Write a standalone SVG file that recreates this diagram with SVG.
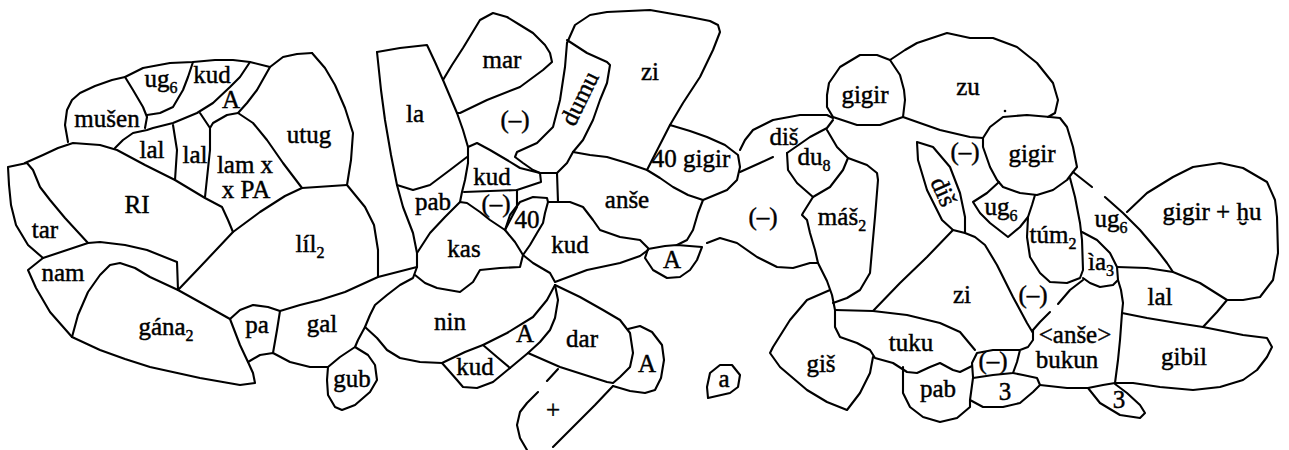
<svg xmlns="http://www.w3.org/2000/svg" width="1289" height="450" viewBox="0 0 1289 450">
<style>
.l{fill:none;stroke:#000;stroke-width:2.1;stroke-linejoin:round;stroke-linecap:round}
.t{font-family:"Liberation Serif","DejaVu Serif",serif;font-size:25px;fill:#000;stroke:#000;stroke-width:0.45;text-anchor:middle}
.s{font-size:16px}
</style>
<rect width="1289" height="450" fill="#fff"/>
<g id="connectors">
<path class="l" d="M68,142 L65,125 L67,110 L72,100 L80,93 L95,86 L112,80 L125,77 L143,68 L170,63 L193,62 L215,60 L233,60 L250,62 L270,67 L283,57 L297,54 L312,53"/>
<path class="l" d="M312,53 L325,68 L335,85 L345,108 L353,133 L351,160 L347,185 L365,207 L374,225 L378,250 L378,277"/>
<path class="l" d="M125,77 L133,90 L143,107 L147,117 L145,128"/>
<path class="l" d="M147,115 L160,113 L173,107 L183,90 L188,77 L193,62"/>
<path class="l" d="M250,62 L240,77 L230,87 L213,103 L197,113 L173,123 L153,128 L147,130 L133,133 L123,140 L115,148"/>
<path class="l" d="M270,67 L257,90 L247,103 L238,113 L227,115 L213,123 L210,128"/>
<path class="l" d="M173,125 L177,150 L175,180"/>
<path class="l" d="M200,113 L210,128 L210,150 L205,197"/>
<path class="l" d="M238,113 L253,123 L267,140 L283,163 L302,188"/>
<path class="l" d="M25,163 L43,155 L58,148 L73,143 L100,145 L117,150 L145,165 L175,180 L205,198 L222,207 L228,220 L233,232"/>
<path class="l" d="M27,163 L8,167 L9,185 L11,205 L16,225 L28,245 L43,258"/>
<path class="l" d="M27,163 L33,170 L40,187 L50,200 L65,218 L88,243"/>
<path class="l" d="M43,258 L28,270 L36,288 L50,312 L72,337"/>
<path class="l" d="M43,258 L88,243 L100,242 L125,245 L147,250 L177,262 L178,290"/>
<path class="l" d="M72,337 L78,315 L88,292 L100,275 L110,265 L120,263 L135,268 L150,277 L178,290 L205,305 L230,319"/>
<path class="l" d="M178,290 L200,267 L233,232 L260,212 L285,196 L302,188 L347,185"/>
<path class="l" d="M72,337 L100,350 L125,359 L150,367 L200,378 L240,385 L255,383 L253,373 L248,362 L240,345 L230,319"/>
<path class="l" d="M230,319 L240,310 L253,305 L268,307 L280,311 L300,305 L320,300 L345,292 L378,277 L417,267"/>
<path class="l" d="M280,311 L277,330 L273,353"/>
<path class="l" d="M248,362 L260,355 L273,353 L290,362 L310,367 L328,367"/>
<path class="l" d="M417,267 L413,278 L400,285 L387,295 L375,305 L370,315 L365,327 L358,340 L355,347 L340,357 L328,367"/>
<path class="l" d="M355,347 L368,355 L375,365 L377,380 L370,392 L355,405 L342,410 L335,407 L328,395 L327,380 L328,367"/>
<path class="l" d="M377,52 L381,90 L385,120 L391,155 L397,185 L403,207 L413,233 L417,253 L417,267"/>
<path class="l" d="M377,52 L400,48 L427,45 L435,62 L443,80 L457,113 L463,130 L468,147 L468,163 L465,180 L462,192 L460,202"/>
<path class="l" d="M397,185 L413,190 L430,185 L450,170 L467,157"/>
<path class="l" d="M443,80 L452,65 L463,48 L480,20 L493,13 L507,17 L520,25 L533,33 L545,45 L550,53 L552,62 L543,70 L520,87 L487,100 L460,113 L457,113"/>
<path class="l" d="M468,147 L477,143 L490,150 L507,160 L520,168 L540,173 L557,173"/>
<path class="l" d="M540,173 L533,170 L523,163 L515,157 L517,152 L537,143 L553,127 L560,100 L565,67 L567,43"/>
<path class="l" d="M567,43 L575,25 L590,15 L607,12 L650,10 L690,17 L710,21 L718,25 L720,32 L713,50 L700,77 L683,103 L670,125"/>
<path class="l" d="M567,40 L587,53 L607,62 L610,65 L607,83 L600,100 L593,120 L583,140 L573,152 L567,163 L557,173"/>
<path class="l" d="M557,173 L558,202 L548,202"/>
<path class="l" d="M540,173 L541,182 L517,190 L464,192"/>
<path class="l" d="M517,190 L517,207 L505,230"/>
<path class="l" d="M417,253 L430,233 L445,217 L460,202 L467,203 L480,212 L490,220 L505,230 L515,242 L523,255"/>
<path class="l" d="M505,230 L510,215 L520,202 L533,197 L547,198 L548,202 L545,213 L543,223 L537,233 L530,245 L523,255"/>
<path class="l" d="M573,152 L590,155 L607,157 L627,163 L647,170"/>
<path class="l" d="M670,125 L690,131 L707,137 L725,145 L738,155 L740,167 L737,180 L727,190 L703,200 L688,195 L673,187 L660,178 L647,170 L670,125"/>
<path class="l" d="M558,202 L570,202 L583,207 L593,220 L600,230 L620,237 L640,240 L648,248"/>
<path class="l" d="M703,200 L698,213 L693,230 L687,240 L677,245"/>
<path class="l" d="M523,255 L533,263 L550,273 L555,282 L587,270 L620,263 L640,256 L648,250"/>
<path class="l" d="M648,249 L665,246 L677,245 L702,247 L697,260 L690,270 L680,277 L667,278 L653,270 L645,258 L648,249"/>
<path class="l" d="M415,275 L425,283 L437,288 L460,292 L473,282 L480,270 L500,268 L520,267 L523,255"/>
<path class="l" d="M442,363 L465,352 L483,345 L507,333 L533,317 L547,300 L555,285"/>
<path class="l" d="M365,327 L377,338 L387,350 L400,358 L420,362 L442,363"/>
<path class="l" d="M442,363 L450,372 L457,380 L463,387 L477,388 L493,382 L510,368"/>
<path class="l" d="M483,345 L497,357 L510,368"/>
<path class="l" d="M555,285 L558,300 L555,318 L550,330 L540,342 L528,353 L510,368"/>
<path class="l" d="M555,285 L580,297 L603,310 L620,320 L630,333 L633,353 L630,367 L620,377 L613,383 L607,382 L585,375 L560,367 L528,353"/>
<path class="l" d="M628,329 L640,326 L652,332 L662,345 L664,360 L661,378 L655,390 L645,393 L630,391 L613,386"/>
<path class="l" d="M558,369 L547,381 M538,392 L527,403 L520,412 L517,425 L520,438 L527,450 M613,386 L595,405 L575,425 L553,447"/>
<path class="l" d="M833,117 L827,107 L827,95 L829,83 L840,67 L860,55 L877,55 L890,60 L900,75 L904,90 L905,100 L903,117 L880,125 L857,125 Z"/>
<path class="l" d="M890,60 L905,50 L917,43 L947,33 L970,38 L993,38 L1017,47 L1037,63 L1053,83 L1058,100 L1055,113 L1048,117"/>
<path class="l" d="M903,117 L920,123 L940,130 L970,137 L983,138"/>
<path class="l" d="M983,138 L990,127 L1003,117 L1027,115 L1050,117 L1060,118 L1067,127 L1073,147 L1077,167 L1073,172 L1067,180 L1053,190 L1037,195 L1020,193 L1003,187 L997,180 L990,167 L983,147 Z"/>
<path class="l" d="M740,150 L745,140 L753,130 L773,120 L800,115 L827,115 L833,118"/>
<path class="l" d="M740,172 L760,163 L773,157 M787,153 L810,137 L827,128 L833,120"/>
<path class="l" d="M787,153 L788,170 L797,183 L813,197 L830,187 L843,170 L848,158 M827,130 L837,147 L848,158"/>
<path class="l" d="M848,158 L867,165 L877,173 L878,180 L875,217 L872,250 L870,273 L860,290 L847,298 L833,303"/>
<path class="l" d="M813,197 L803,213 L802,215 L807,220 L810,233 L815,250 L818,263 L827,281 L832,295 L835,310"/>
<path class="l" d="M707,243 L720,238 L737,243 L757,257 L777,267 L793,268 L810,263 L818,263"/>
<path class="l" d="M830,290 L807,300 L790,320 L773,347 L770,353 L780,367 L807,390 L827,402 L847,410 L860,393 L870,373 L873,357"/>
<path class="l" d="M835,310 L873,311 L907,315 L940,323 L960,332 L975,350"/>
<path class="l" d="M835,310 L835,327 L840,337 L857,343 L870,350 L875,358 L893,363 L907,372 L917,373 L930,367 L940,363 L953,370 L960,372 L972,366"/>
<path class="l" d="M903,367 L903,393 L910,407 L923,417 L940,422 L957,418 L970,407 L970,400"/>
<path class="l" d="M917,142 L933,147 L950,167 L960,193 L965,217 L965,233 L953,230 L942,220 L927,190 L918,160 Z"/>
<path class="l" d="M953,230 L927,257 L900,283 L873,311"/>
<path class="l" d="M965,233 L975,237 L985,245 L997,265 L1013,297 L1027,323 L1033,333"/>
<path class="l" d="M999,182 L987,193 L973,202 L980,213 L990,223 L1008,237 L1020,227 L1028,217"/>
<path class="l" d="M1035,195 L1032,205 L1028,217 L1027,237 L1030,257 L1040,273 L1050,282 L1067,283 L1080,278 L1083,270 L1082,240 L1080,223 L1075,197 L1070,178"/>
<path class="l" d="M1082,232 L1097,240 L1110,253 L1117,267 L1118,280 L1113,285 L1100,287 L1090,283 L1083,278"/>
<path class="l" d="M1073,172 L1092,187 M1105,197 L1123,213 L1140,230 L1157,250 L1167,263 L1173,272"/>
<path class="l" d="M1127,212 L1147,193 L1173,177 L1193,167 L1220,163 L1243,168 L1267,182 L1275,200 L1277,217 L1278,253 L1273,280 L1260,297 L1243,300 L1227,300"/>
<path class="l" d="M1117,267 L1147,268 L1173,272 L1200,283 L1227,300 L1217,312 L1203,327"/>
<path class="l" d="M1118,280 L1121,290 L1123,303 L1122,313 L1120,340 L1118,360 L1115,383"/>
<path class="l" d="M1122,313 L1147,318 L1177,323 L1203,327 L1243,335 L1267,338 L1272,347 L1267,357 L1257,370 L1243,380 L1220,387 L1193,390 L1160,387 L1133,383 L1115,383"/>
<path class="l" d="M1088,388 L1100,403 L1120,415 L1140,418 L1145,413 L1140,405 L1127,393 L1115,384"/>
<path class="l" d="M1040,385 L1067,388 L1088,388 L1103,385 L1115,383"/>
<path class="l" d="M1083,280 L1070,290 L1058,304 M1050,312 L1040,322 L1033,330"/>
<path class="l" d="M1033,330 L1033,340 L1028,347 L1020,350 L993,350 L977,353 L972,363 L973,377 M1020,350 L1017,362 L1013,373 M973,378 L993,375 L1013,373"/>
<path class="l" d="M973,378 L970,400 L983,407 L1003,407 L1020,403 L1033,392 L1040,385 L1037,378 L1023,375 L1013,373"/>
<path class="l" d="M708,398 L707,387 L710,373 L720,365 L732,365 L740,375 L738,387 L730,393 Z"/>
<circle cx="1005" cy="111" r="1.3" fill="#000"/>
</g>
<g id="labels">
<text class="t" x="161" y="87">ug<tspan class="s" dy="6">6</tspan></text>
<text class="t" x="212" y="83">kud</text>
<text class="t" x="231" y="108">A</text>
<text class="t" x="107" y="127">mušen</text>
<text class="t" x="152" y="158">lal</text>
<text class="t" x="195" y="163">lal</text>
<text class="t" x="245" y="173">lam x</text>
<text class="t" x="246" y="198">x PA</text>
<text class="t" x="309" y="143">utug</text>
<text class="t" x="137" y="213">RI</text>
<text class="t" x="45" y="238">tar</text>
<text class="t" x="63" y="281">nam</text>
<text class="t" x="310" y="252">líl<tspan class="s" dy="6">2</tspan></text>
<text class="t" x="166" y="335">gána<tspan class="s" dy="6">2</tspan></text>
<text class="t" x="257" y="333">pa</text>
<text class="t" x="322" y="332">gal</text>
<text class="t" x="352" y="387">gub</text>
<text class="t" x="415" y="122">la</text>
<text class="t" x="502" y="68">mar</text>
<text class="t" x="515" y="128">(–)</text>
<text class="t" transform="translate(587,102) rotate(-64)">dumu</text>
<text class="t" x="492" y="185">kud</text>
<text class="t" x="433" y="210">pab</text>
<text class="t" x="496" y="212">(–)</text>
<text class="t" x="527" y="228">40</text>
<text class="t" x="464" y="257">kas</text>
<text class="t" x="570" y="253">kud</text>
<text class="t" x="627" y="208">anše</text>
<text class="t" x="650" y="80">zi</text>
<text class="t" x="691" y="167">40 gigir</text>
<text class="t" x="450" y="330">nin</text>
<text class="t" x="525" y="342">A</text>
<text class="t" x="475" y="375">kud</text>
<text class="t" x="582" y="347">dar</text>
<text class="t" x="647" y="372">A</text>
<text class="t" x="553" y="418">+</text>
<text class="t" x="672" y="268">A</text>
<text class="t" x="724" y="387">a</text>
<text class="t" x="784" y="145">diš</text>
<text class="t" x="814" y="165">du<tspan class="s" dy="6">8</tspan></text>
<text class="t" x="865" y="103">gigir</text>
<text class="t" x="763" y="225">(–)</text>
<text class="t" x="842" y="225">máš<tspan class="s" dy="6">2</tspan></text>
<text class="t" x="968" y="95">zu</text>
<text class="t" x="1032" y="162">gigir</text>
<text class="t" x="965" y="160">(–)</text>
<text class="t" transform="translate(936,195) rotate(66)">diš</text>
<text class="t" x="1001" y="215">ug<tspan class="s" dy="6">6</tspan></text>
<text class="t" x="1053" y="243">túm<tspan class="s" dy="6">2</tspan></text>
<text class="t" x="1111" y="227">ug<tspan class="s" dy="6">6</tspan></text>
<text class="t" x="1101" y="270">ìa<tspan class="s" dy="6">3</tspan></text>
<text class="t" x="1212" y="220">gigir + ḫu</text>
<text class="t" x="1160" y="305">lal</text>
<text class="t" x="962" y="303">zi</text>
<text class="t" x="1033" y="303">(–)</text>
<text class="t" x="1075" y="343">&lt;anše&gt;</text>
<text class="t" x="1067" y="368">bukun</text>
<text class="t" x="1184" y="365">gibil</text>
<text class="t" x="993" y="369">(–)</text>
<text class="t" x="1005" y="400">3</text>
<text class="t" x="1119" y="408">3</text>
<text class="t" x="911" y="351">tuku</text>
<text class="t" x="821" y="372">giš</text>
<text class="t" x="938" y="397">pab</text>
</g>
</svg>
